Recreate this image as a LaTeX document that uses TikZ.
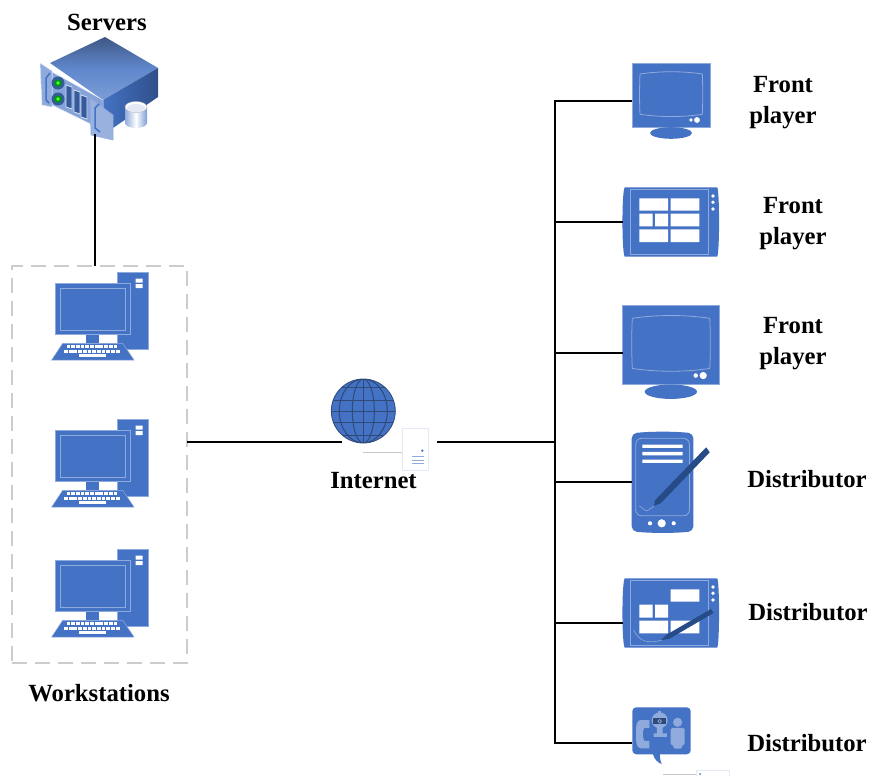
\documentclass[tikz,border=0pt]{standalone}
\usepackage{fontspec}
\setmainfont{Liberation Serif}
\definecolor{iconblue}{HTML}{4472C4}
\definecolor{pale}{HTML}{8FAADC}
\definecolor{navy}{HTML}{264B87}
\definecolor{globeline}{HTML}{2F4A78}
\tikzset{
 x=1pt,y=-1pt,
 wire/.style={draw=black,line width=2pt},
 lbl/.style={font=\bfseries\fontsize{24.7}{31}\selectfont,inner sep=0pt,align=center,text=black},
 hit/.style={inner sep=0pt,outer sep=0pt,rectangle},
 fillb/.style={fill=iconblue,draw=none},
 thin pale/.style={draw=pale,line width=0.8pt},
 tile/.style={fill=white,draw=none},
 pen/.style={fill=navy,draw=none},
 ws/.pic={
  \path[fillb,draw=pale,line width=.6pt] (77.3,7.3) rectangle (108.3,84);
  \path[tile] (95.5,13.5) rectangle (102.5,17.5) (95.5,19) rectangle (102.5,23);
  \path[fillb] (46,69) rectangle (59.3,78.3);
  \path[fillb,draw=pale,line width=.8pt] (15.7,18.3) rectangle (90.7,69.3);
  \path[thin pale] (20.7,23.3) rectangle (85.7,65);
  \path[fillb,draw=pale,line width=.5pt] (22.7,78.3) -- (82.7,78.3) -- (94,95) -- (11.7,95) -- cycle;
  \foreach \i in {0,...,10} {\path[tile] ({26.5+\i*4.7},80.3) rectangle ++(3.8,2.9);}
  \foreach \i in {0,...,11} {\path[tile] ({24+\i*4.7},84.7) rectangle ++(3.8,2.9);}
  \path[tile] (39,89.2) rectangle (66,92);
 },
 mon/.pic={
  \path[fillb,draw=pale,line width=.5pt] (0,0) rectangle (77.7,64);
  \path[thin pale] (7.7,10.7) .. controls (28,7.7) and (50,7.7) .. (70,10.7) .. controls (70.6,24) and (70.6,38) .. (70,51) .. controls (50,54) and (28,54) .. (7.7,51) .. controls (7.1,38) and (7.1,24) .. (7.7,10.7) -- cycle;
  \path[tile] (58.7,56.7) circle (1.8) (64.7,56.7) circle (2.9);
  \path[fillb] (38.7,69.7) ellipse [x radius=21,y radius=5.8];
 },
 tab/.pic={
  \path[fillb] (2,0) -- (94.5,0) .. controls (97,4) and (97,65) .. (94.5,69.4) -- (2,69.4) .. controls (-1,65) and (-1,4) .. (2,0) -- cycle;
  \path[thin pale] (7.3,2) rectangle (86,67);
  \foreach \i in {8.7,15,21.7} {\path[tile] (90.3,\i) circle (1.9);}
 },
 dist/.pic={
  \path[fillb,rounded corners=5pt] (0,1) .. controls (20,-1) and (42,-1) .. (61.7,1) -- (61.7,99) .. controls (42,101) and (20,101) .. (0,99) -- cycle;
  \path[thin pale,rounded corners=6pt] (4,6) rectangle (57.7,83.5);
  \path[tile] (10.7,12.3) rectangle (51,15.6) (10.7,19.6) rectangle (51,23) (10.7,27.2) rectangle (51,30.5);
  \path[tile] (18.3,91) circle (2.1) (30,91) circle (4.1) (42,91) circle (2.1);
  \path[draw=pale,line width=.6pt] (7.5,73.5) .. controls (12,76) and (14,80) .. (16,78) .. controls (18,76) and (19,77) .. (22.3,73.5);
  \path[pen] (22.3,73.5) -- (23.3,68) -- (74.5,15) -- (78,20) -- (29,71) -- cycle;
 },
 chat/.pic={
  \path[fillb,rounded corners=4pt] (0,0) rectangle (58.4,47);
  \path[fillb] (20.4,46) .. controls (22,52) and (25,55) .. (29.4,56.7) .. controls (27.8,53) and (27.4,50) .. (27.7,46) -- cycle;
  \path[fill=pale] (10,12.7) .. controls (4,12) and (3.7,17) .. (3.7,27) .. controls (3.7,37) and (4,42) .. (12,41) -- (17,41) -- (17,33.5) -- (12,33.5) .. controls (10,30) and (10,24) .. (12,20.5) -- (17,20.5) -- (17,12.7) -- cycle;
  \path[fill=pale] (27.4,13) circle (8);
  \path[fill=pale] (26,3.8) rectangle (29,6);
  \path[fill=globeline] (21,11) rectangle (33.7,17);
  \path[draw=pale,line width=.7pt] (27.4,14) circle (1.8);
  \path[fill=pale] (24.5,20) rectangle (30.4,26) (21.2,26) rectangle (34.6,29.5);
  \path[fill=pale] (45.3,15) circle (4.6);
  \path[fill=pale,rounded corners=1.5pt] (38.4,20.5) rectangle (52.3,38) (41,36) rectangle (49.7,41.3);
 }
}
\begin{document}
\begin{tikzpicture}
\path[use as bounding box,fill=white] (0,0) rectangle (870,776);

% server
\path[top color=iconblue!60!black!90,bottom color=iconblue!70!white,middle color=iconblue!85!white] (105,37) -- (158,68) -- (103,100) -- (50,63) -- cycle;
\path[left color=iconblue,right color=iconblue!70!black] (103,100) -- (158,68) -- (158,97) -- (113,128) -- (103,128) -- cycle;
\path[fill=iconblue!65!white,draw=white!70!pale,line width=.5pt] (52,72) -- (103,100) -- (103,130) -- (52,105) -- cycle;
\path[fill=pale,draw=white!70!pale,line width=.5pt] (40,63) -- (52,71) -- (52,107) -- (42,105) -- cycle;
\path[fill=iconblue!55!white,draw=pale,line width=.5pt] (90,98) -- (113,115) -- (113,140) -- (91,135) -- cycle;
\path[draw=iconblue,line width=1.5pt] (50,73) -- (46,78) -- (46,100) -- (49,103);
\path[draw=iconblue,line width=1.5pt] (99,104) -- (95,108) -- (95,128) -- (100,132);
\foreach \yy in {83,99} {
 \path[fill=iconblue!80!black] (58,\yy) circle (6.5);
 \path[fill=green!60!black] (58,\yy) circle (3.7);
 \path[fill=green!70!white] (58,\yy) circle (1.8);
}
\foreach \xx/\yy in {69/85,77/90,84/95} {
 \path[fill=iconblue!80!black,draw=white!60!pale,line width=.9pt] (\xx-3,\yy) -- (\xx+3,\yy+2) -- (\xx+3,\yy+24) -- (\xx-3,\yy+22) -- cycle;
}
\path[left color=pale,right color=iconblue!70!white,middle color=white] (125,107) -- (125,123) arc [start angle=180,end angle=0,x radius=11,y radius=5] -- (147,107) -- cycle;
\path[fill=white,draw=white!70!black,line width=.4pt] (136,107) ellipse [x radius=11,y radius=5.5];
\path[fill=white!75!pale] (136,108) ellipse [x radius=9,y radius=4];
\node[hit,minimum width=119pt,minimum height=106pt] (server) at (99.5,84) {};

\node[lbl] (servers) at (107,22) {Servers};

% workstations
\node[hit,draw=white!80!black,line width=1.8pt,dash pattern=on 15pt off 8pt,minimum width=175pt,minimum height=397pt] (group) at (99.5,464.5) {};
\pic at (40,265) {ws};
\pic at (40,412) {ws};
\pic at (40,542) {ws};
\node[lbl] (wslabel) at (99,693) {Workstations};

% internet
\coordinate (globec) at (363.3,411);
\path[fill=iconblue,draw=globeline,line width=.8pt] (globec) circle (32);
\begin{scope}
\clip (globec) circle (32);
\foreach \d in {-24,-11,0,11,24} {\draw[globeline,line width=1pt] (331,411+\d) -- (396,411+\d);}
\foreach \r in {11,24} {\draw[globeline,line width=1pt] (globec) ellipse [x radius=\r,y radius=32];}
\draw[globeline,line width=1pt] (363.3,379) -- (363.3,443);
\end{scope}
\node[hit,minimum width=155pt,minimum height=70pt] (internet) at (389,442) {};
\coordinate (docleft) at (403,452);
\coordinate (linestart) at (363,452);
\draw[white!78!black,line width=.7pt] (linestart) -- (docleft);
\path[fill=white,draw=iconblue!15!white,line width=.7pt] (402.7,428.3) rectangle (428.3,470);
\path[fill=iconblue] (422.3,450.7) circle (1.3);
\foreach \yy in {456.7,460,463.3} {\draw[pale,line width=.7pt] (411.7,\yy) -- (424.3,\yy);}
\node[lbl] (intlabel) at (373.5,481) {Internet};

% right icons
\pic at (632.3,63.3) {mon};
\node[hit,minimum width=77.7pt,minimum height=64pt] (d1) at (671.2,95.3) {};
\pic at (622.7,187.3) {tab};
\path[tile] (639.3,198.3) rectangle (668,210.7) (670.7,198.3) rectangle (699.3,210.7)
 (639.3,213.7) rectangle (652.7,226.3) (655,213.7) rectangle (668,226.3) (670.7,213.7) rectangle (699.3,226.3)
 (639.3,229.3) rectangle (668,242) (670.7,229.3) rectangle (699.3,242);
\node[hit,minimum width=96.6pt,minimum height=69.4pt] (d2) at (671,222) {};
\pic[scale=1.244] at (622.7,305) {mon};
\node[hit,minimum width=96.6pt,minimum height=79.6pt] (d3) at (671,344.8) {};
\pic at (631.7,432.3) {dist};
\node[hit,minimum width=61.6pt,minimum height=100pt] (d4) at (662.5,482.3) {};
\pic at (622.7,578.3) {tab};
\path[tile] (670.7,589.3) rectangle (699.3,601.7)
 (639.3,604.7) rectangle (652.7,617.7) (655,604.7) rectangle (668,617.7)
 (639.3,620.7) rectangle (668,633.3) (670.7,620.7) rectangle (699.3,633.3);
\draw[pale,line width=.6pt] (633.5,630) .. controls (640,642) and (648,644) .. (662,640);
\path[pen] (661,640) -- (666,635) -- (711,609) -- (713.5,613) -- (669,639) -- cycle;
\node[hit,minimum width=96.6pt,minimum height=69.4pt] (d5) at (671,613) {};
\pic at (632.3,707.3) {chat};
\node[hit,minimum width=58.4pt,minimum height=71pt] (d6) at (661.5,742.8) {};
\coordinate (tail) at (663,774);
\coordinate (tailend) at (696,774);
\draw[white!78!black,line width=.7pt] (tail) -- (tailend);
\path[fill=white,draw=iconblue!15!white,line width=.7pt] (696,776) -- (696,770) -- (729,770) -- (729,776);
\path[fill=iconblue] (700,774) circle (1);

% connectors
\coordinate (b1) at (555,101);
\coordinate (b2) at (555,222);
\coordinate (b3) at (555,353);
\coordinate (bi) at (555,442);
\coordinate (b4) at (555,482);
\coordinate (b5) at (555,623);
\coordinate (b6) at (555,743);
\coordinate (srvfoot) at (95,134);
\coordinate (grouptop) at (95,266);
\coordinate (groupout) at (187,442);
\coordinate (globein) at (341.5,442);
\coordinate (docout) at (437,442);
\draw[wire] (srvfoot) -- (grouptop);
\draw[wire] (groupout) -- (globein);
\draw[wire] (docout) -- (bi);
\draw[wire,line cap=rect] (b1) -- (b6);
\draw[wire] (b1) -- (b1 -| d1.west);
\draw[wire] (b2) -- (b2 -| d2.west);
\draw[wire] (b3) -- (b3 -| d3.west);
\draw[wire] (b4) -- (b4 -| d4.west);
\draw[wire] (b5) -- (b5 -| d5.west);
\draw[wire] (b6) -- (b6 -| d6.west);

% labels
\node[lbl] (l1) at (783,103) {Front\\player};
\node[lbl] (l2) at (793,224) {Front\\player};
\node[lbl] (l3) at (793,344) {Front\\player};
\node[lbl] (l4) at (807,479) {Distributor};
\node[lbl] (l5) at (808,612.5) {Distributor};
\node[lbl] (l6) at (807,743) {Distributor};
\end{tikzpicture}
\end{document}
